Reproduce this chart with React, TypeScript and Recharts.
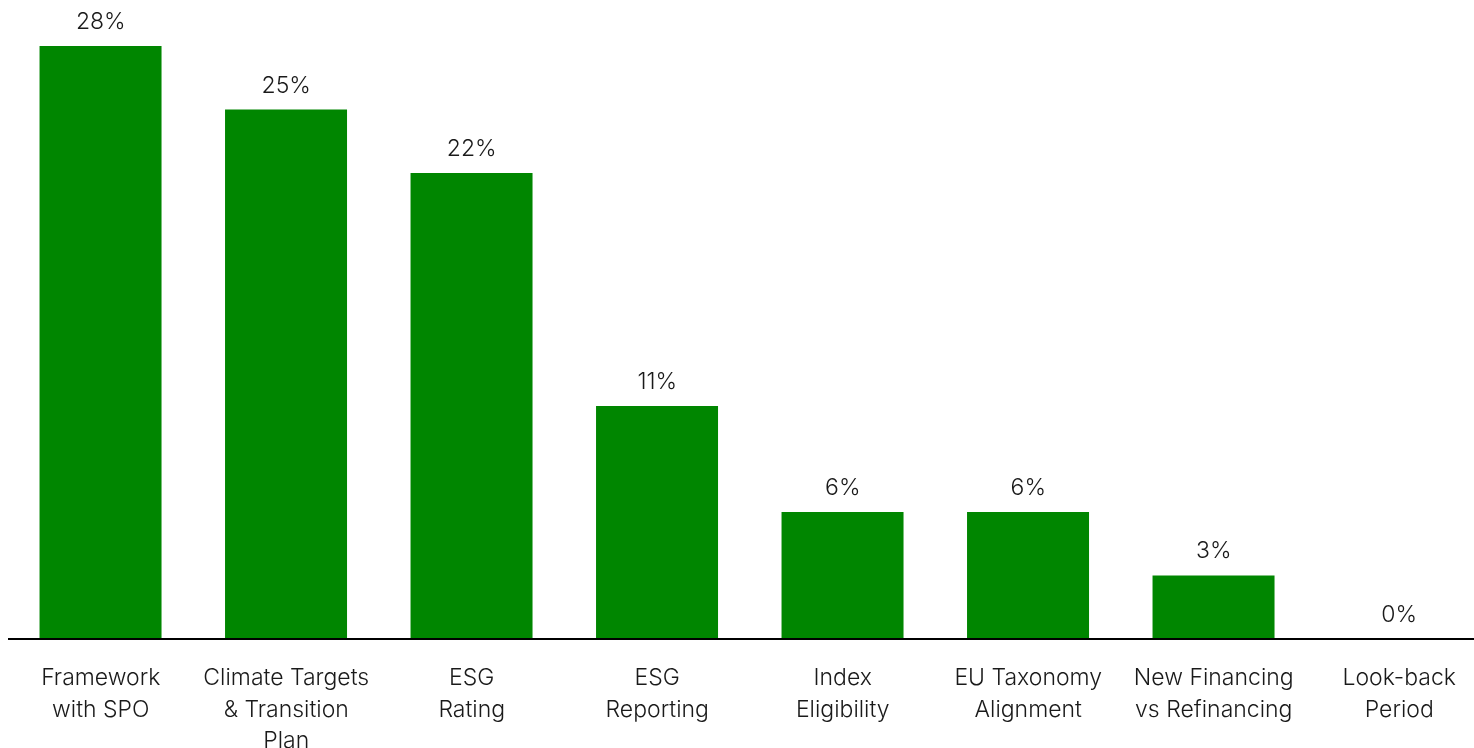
import React from 'react';
import { ComposedChart, Bar, Line, XAxis, YAxis, LabelList } from 'recharts';

const categories = [
  'Framework\nwith SPO',
  'Climate Targets\n& Transition\nPlan',
  'ESG\nRating',
  'ESG\nReporting',
  'Index\nEligibility',
  'EU Taxonomy\nAlignment',
  'New Financing\nvs Refinancing',
  'Look-back\nPeriod',
];
const shares = [28, 25, 22, 11, 6, 6, 3, 0];

const data = categories.map((name, i) => ({ name, share: shares[i] }));

const FONT = 'Inter, "Noto Sans", sans-serif';
const GREEN = '#008600';
const TEXT = '#1a1a1a';

const CategoryTick = (props: any) => {
  const { x, y, payload } = props;
  const lines = String(payload.value).split('\n');
  return (
    <text x={x} y={y} textAnchor="middle" fill={TEXT} fontSize={23} fontWeight={300} fontFamily={FONT}>
      {lines.map((line, i) => (
        <tspan key={i} x={x} dy={i === 0 ? 46 : 31.5}>
          {line}
        </tspan>
      ))}
    </text>
  );
};

// labels hang off an invisible line so the 0% value still gets one
const ValueLabel = (props: any) => {
  const { x, y, value } = props;
  return (
    <text x={x} y={y - 17} textAnchor="middle" fill={TEXT} fontSize={23} fontWeight={300} fontFamily={FONT}>
      {`${value}%`}
    </text>
  );
};

export default function App() {
  return (
    <div style={{ position: 'fixed', left: 8, top: 8, width: 1466, height: 740, overflow: 'hidden' }}>
      <ComposedChart
        width={1484}
        height={740}
        data={data}
        margin={{ top: 38, right: 0, bottom: 0, left: 0 }}
        barCategoryGap="17%"
      >
        <XAxis
          dataKey="name"
          axisLine={{ stroke: '#000', strokeWidth: 2 }}
          tickLine={false}
          tickSize={0}
          tickMargin={0}
          height={109}
          interval={0}
          tick={<CategoryTick />}
        />
        <YAxis hide domain={[0, 28]} />
        <Bar dataKey="share" fill={GREEN} isAnimationActive={false} />
        <Line dataKey="share" stroke="none" dot={false} activeDot={false} isAnimationActive={false}>
          <LabelList dataKey="share" content={<ValueLabel />} />
        </Line>
      </ComposedChart>
    </div>
  );
}
